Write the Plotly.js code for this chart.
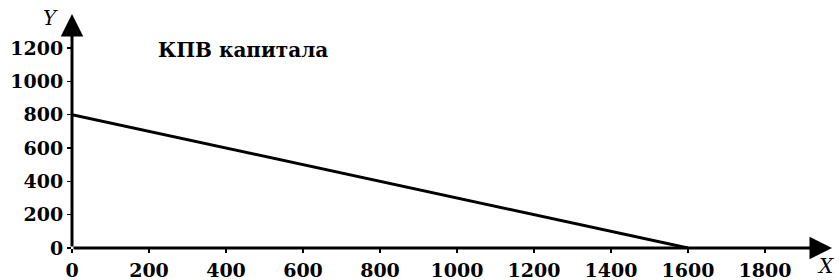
<!DOCTYPE html>
<html>
<head>
<meta charset="utf-8">
<script src="https://cdn.plot.ly/plotly-3.0.1.min.js"></script>
<style>html,body{margin:0;padding:0;background:#fff;}#chart{width:839px;height:280px;}</style>
</head>
<body>
<div id="chart"></div>
<script>
const lineX = [0, 1600];
const lineY = [800, 0];
const xTicks = [0, 200, 400, 600, 800, 1000, 1200, 1400, 1600, 1800];
const yTicks = [0, 200, 400, 600, 800, 1000, 1200];
const titleText = 'КПВ капитала';
const xName = 'X';
const yName = 'Y';

const F = '"DejaVu Serif", serif';
const xMax = 1974, yMax = 1404;

const data = [{
  x: lineX, y: lineY, type: 'scatter', mode: 'lines',
  line: {color: '#000', width: 3}, cliponaxis: false, hoverinfo: 'skip'
}];

const layout = {
  width: 839, height: 280,
  margin: {l: 72, r: 7, t: 14, b: 32},
  paper_bgcolor: '#fff', plot_bgcolor: '#fff',
  showlegend: false,
  xaxis: {
    range: [0, xMax], tickvals: xTicks, ticktext: xTicks.map(String),
    showgrid: false, zeroline: false, showline: false,
    ticks: 'outside', ticklen: 4, tickwidth: 1.5, tickcolor: '#000',
    ticklabelstandoff: 1,
    tickfont: {family: F, size: 19, color: '#000', weight: 'bold'}
  },
  yaxis: {
    range: [0, yMax], tickvals: yTicks, ticktext: yTicks.map(String),
    showgrid: false, zeroline: false, showline: false,
    ticks: 'outside', ticklen: 4, tickwidth: 1.5, tickcolor: '#000',
    tickfont: {family: F, size: 19, color: '#000', weight: 'bold'}
  },
  annotations: [
    {x: xMax, y: 0, ax: 0, ay: 0, xref: 'x', yref: 'y', axref: 'x', ayref: 'y',
     showarrow: true, arrowhead: 2, arrowsize: 1.5, arrowwidth: 3, arrowcolor: '#000', text: ''},
    {x: 0, y: yMax, ax: 0, ay: 0, xref: 'x', yref: 'y', axref: 'x', ayref: 'y',
     showarrow: true, arrowhead: 2, arrowsize: 1.5, arrowwidth: 3, arrowcolor: '#000', text: ''},
    {x: 0.111, y: 0.846, xref: 'paper', yref: 'paper', xanchor: 'left', yanchor: 'middle',
     showarrow: false, text: '<b>' + titleText + '</b>',
     font: {family: F, size: 20, color: '#000'}},
    {xref: 'paper', yref: 'paper', x: -0.028, y: 0.983, xanchor: 'center', yanchor: 'middle',
     showarrow: false, text: '<i>' + yName + '</i>', font: {family: F, size: 20, color: '#000'}},
    {xref: 'paper', yref: 'paper', x: 0.992, y: -0.077, xanchor: 'center', yanchor: 'middle',
     showarrow: false, text: '<i>' + xName + '</i>', font: {family: F, size: 20, color: '#000'}}
  ]
};

Plotly.newPlot('chart', data, layout, {displayModeBar: false, staticPlot: true});
</script>
</body>
</html>
